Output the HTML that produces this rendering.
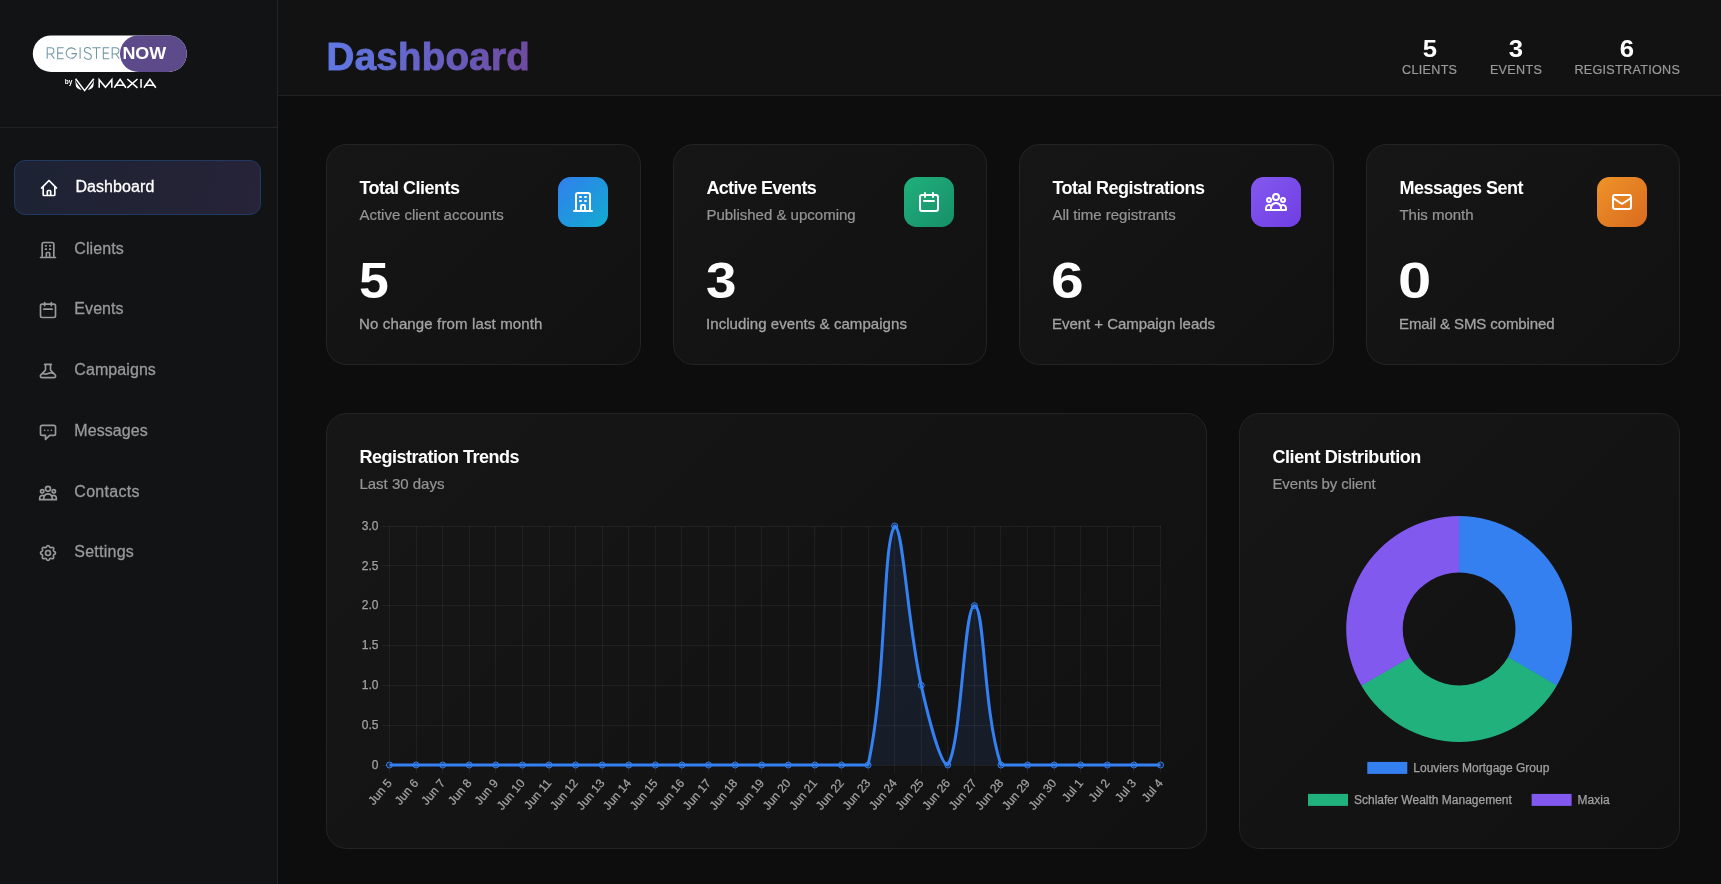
<!DOCTYPE html>
<html lang="en">
<head>
<meta charset="utf-8">
<title>Dashboard</title>
<style>
*{box-sizing:border-box;margin:0;padding:0}
html,body{width:1721px;height:884px;overflow:hidden;background:#0d0d0d}
body{font-family:"Liberation Sans",sans-serif;color:#fff;position:relative;-webkit-font-smoothing:antialiased}
.abs{position:absolute}
#sidebar,#header,.card,#charts{will-change:transform}
/* sidebar */
#sidebar{position:absolute;left:0;top:0;width:278px;height:884px;background:#121315;border-right:1px solid #232326}
#logo{position:absolute;left:0;top:0;width:277px;height:128px;border-bottom:1px solid #232326}
.nav{position:absolute;left:14px;width:247px;height:55px;border-radius:11px;color:#999}
.nav svg{position:absolute;left:24px;top:17.5px;width:20px;height:20px;fill:none;stroke:currentColor;stroke-width:2;stroke-linecap:round;stroke-linejoin:round}
.nav span{position:absolute;left:60.3px;top:-.4px;line-height:53px;font-size:16px;white-space:nowrap;letter-spacing:.08px;-webkit-text-stroke:.3px currentColor}
.nav.active{color:#fff;background:linear-gradient(100deg,#1d2334 0%,#222335 55%,#272338 100%);border:1px solid #203965}
.nav.active svg{left:24.1px;top:17.1px}
.nav.active span{left:60.4px;top:-1px}
/* header */
#header{position:absolute;left:278px;top:0;width:1443px;height:96px;background:#121212;border-bottom:1px solid #212121}
#title{position:absolute;left:48.6px;top:34px;font-size:38.4px;font-weight:700;line-height:46px;letter-spacing:.32px;-webkit-text-stroke:1px transparent;white-space:nowrap;
 background:linear-gradient(90deg,#5f79e6 0%,#6e4a9f 100%);-webkit-background-clip:text;background-clip:text;color:transparent;-webkit-text-fill-color:transparent}
.hs{position:absolute;top:0;text-align:center;white-space:nowrap;transform:translateX(-50%)}
.hs b{display:block;position:absolute;left:50%;transform:translateX(-50%) scaleX(1.09);top:34.5px;font-size:23.6px;line-height:28px;font-weight:700;color:#fff}
.hs i{display:block;position:absolute;left:50%;transform:translateX(-50%);top:62.1px;font-style:normal;font-size:12.6px;line-height:16px;color:#9a9a9a;letter-spacing:.3px;-webkit-text-stroke:.2px currentColor}
/* cards */
.card{position:absolute;border:1px solid #242424;border-radius:20.5px;background:linear-gradient(135deg,#161616 0%,#111111 100%)}
.stat{top:144px;height:221px}
.stat h3{position:absolute;left:32.4px;top:31px;font-size:18px;line-height:24px;font-weight:700;white-space:nowrap;letter-spacing:-.5px}
.stat p{position:absolute;left:32.4px;top:60px;font-size:15px;line-height:20px;color:#949494;white-space:nowrap;-webkit-text-stroke:.22px currentColor}
.stat .num{position:absolute;left:31.2px;top:107.9px;font-size:49.8px;line-height:56px;font-weight:700;white-space:nowrap;transform:scaleX(1.12);transform-origin:0 0}
.stat .foot{position:absolute;left:32px;top:168.8px;font-size:15px;line-height:20px;letter-spacing:.06px;color:#a3a3a3;white-space:nowrap;font-weight:400;-webkit-text-stroke:.3px currentColor}
.ico{position:absolute;right:32px;top:32px;width:50px;height:50px;border-radius:12.5px}
.ico svg{position:absolute;left:13px;top:13px;width:24px;height:24px;fill:none;stroke:#fff;stroke-width:2;stroke-linecap:round;stroke-linejoin:round}
.big h3{position:absolute;left:32.4px;top:31px;font-size:18px;line-height:24px;font-weight:700;white-space:nowrap;letter-spacing:-.5px}
.big p{position:absolute;left:32.4px;top:60px;font-size:15px;line-height:20px;color:#949494;white-space:nowrap;-webkit-text-stroke:.22px currentColor}
#charts{position:absolute;left:0;top:0;width:1721px;height:884px;pointer-events:none}
#charts text{font-family:"Liberation Sans",sans-serif;font-size:12px;fill:#a2a2a2;stroke:#a2a2a2;stroke-width:.25px}
</style>
</head>
<body>
<div id="sidebar">
 <div id="logo">
  <svg width="277" height="127" viewBox="0 0 277 127" style="position:absolute;left:0;top:0">
   <rect x="32.8" y="35.4" width="154" height="36.6" rx="18.3" fill="#ffffff"/>
   <rect x="120" y="35.4" width="66.8" height="36.6" rx="18.3" fill="#5c4a8b"/>
   <g fill="none" stroke="#6f96a5" stroke-width="1.05" stroke-linecap="butt" stroke-linejoin="miter">
    <!-- R -->
    <path d="M47.2 58.7V47.7h3.6a3.1 3.1 0 0 1 0 6.2h-3.6M50.9 53.9l3.4 4.8"/>
    <!-- E -->
    <path d="M63.7 47.7h-6v11h6M57.7 53.1h5.3"/>
    <!-- G -->
    <path d="M75.6 50.1a5.2 5.2 0 1 0 .9 3.5h-5"/>
    <!-- I -->
    <path d="M80.1 47.2v11.5"/>
    <!-- S -->
    <path d="M90.9 49.6c-.5-1.3-1.7-2.1-3.3-2.1-1.9 0-3.2 1.1-3.2 2.7 0 1.700 1.300 2.300 3.300 2.900 2.300.7 3.700 1.400 3.700 3.300 0 1.700-1.400 2.900-3.500 2.900-1.900 0-3.300-1-3.800-2.600"/>
    <!-- T -->
    <path d="M92.3 47.7h8.4M96.5 47.7v11"/>
    <!-- E -->
    <path d="M109.3 47.7h-6v11h6M103.3 53.1h5.3"/>
    <!-- R -->
    <path d="M112.2 58.7V47.700h3.600a3.100 3.100 0 0 1 0 6.200h-3.600M115.900 53.900l3.400 4.800"/>
   </g>
   <text x="122.4" y="58.7" font-family="Liberation Sans, sans-serif" font-weight="700" font-size="16.2" fill="#fff" textLength="43.8" lengthAdjust="spacingAndGlyphs">NOW</text>
   <text x="64.7" y="83.5" font-family="Liberation Sans, sans-serif" font-weight="700" font-size="7" fill="#fff" textLength="7.6" lengthAdjust="spacingAndGlyphs">by</text>
   <!-- maxia mark -->
   <g fill="none" stroke="#fff" stroke-width="1.5" stroke-linejoin="miter" stroke-linecap="butt">
    <path d="M75.6 78.8L84.6 90.6L93.7 78.8"/>
   </g>
   <path d="M75.1 78.5L75.9 86.3Q76.5 88.3 79.2 89.2L81.6 89.9L78.6 86L76.2 82.6Z" fill="#fff"/>
   <path d="M94.200 78.500L93.400 86.300Q92.800 88.300 90.100 89.200L87.700 89.900L90.700 86L93.100 82.600Z" fill="#fff"/>
   <!-- MAXIA -->
   <g fill="none" stroke="#fff" stroke-width="1.55" stroke-linejoin="miter" stroke-linecap="butt">
    <path d="M99.200 87.800V79.700L105.500 87.200L111.800 79.700V87.800"/>
    <path d="M114.300 87.800L120.100 79.300L125.900 87.800M116.300 85.200H123.900"/>
    <path d="M127.300 79L137.500 87.800M137.500 79L127.300 87.800"/>
    <path d="M141.050 78.900V87.800"/>
    <path d="M144 87.800L149.900 79.300L155.800 87.800M146 85.200H153.800"/>
   </g>
  </svg>
 </div>
  <div class="nav active" style="top:160px"><svg viewBox="0 0 24 24"><path d="M3 12l2-2m0 0l7-7 7 7M5 10v10a1 1 0 001 1h3m10-11l2 2m-2-2v10a1 1 0 01-1 1h-3m-6 0a1 1 0 001-1v-4a1 1 0 011-1h2a1 1 0 011 1v4a1 1 0 001 1m-6 0h6"/></svg><span>Dashboard</span></div>
 <div class="nav" style="top:222.30px"><svg viewBox="0 0 24 24"><path d="M19 21V5a2 2 0 00-2-2H7a2 2 0 00-2 2v16m14 0h2m-2 0h-5m-9 0H3m2 0h5M9 7h1m-1 4h1m4-4h1m-1 4h1m-5 10v-5a1 1 0 011-1h2a1 1 0 011 1v5m-4 0h4"/></svg><span>Clients</span></div>
 <div class="nav" style="top:282.50px"><svg viewBox="0 0 24 24"><path d="M8 7V3m8 4V3m-9 8h10M5 21h14a2 2 0 002-2V7a2 2 0 00-2-2H5a2 2 0 00-2 2v12a2 2 0 002 2z"/></svg><span>Events</span></div>
 <div class="nav" style="top:343.50px"><svg viewBox="0 0 24 24"><path d="M19.428 15.428a2 2 0 00-1.022-.547l-2.387-.477a6 6 0 00-3.860.517l-.318.158a6 6 0 01-3.860.517L6.050 15.210a2 2 0 00-1.806.547M8 4h8l-1 1v5.172a2 2 0 00.586 1.414l5 5c1.260 1.260.367 3.414-1.415 3.414H4.828c-1.782 0-2.674-2.154-1.414-3.414l5-5A2 2 0 009 10.172V5L8 4z"/></svg><span>Campaigns</span></div>
 <div class="nav" style="top:404.30px"><svg viewBox="0 0 24 24"><path d="M8 10h.01M12 10h.01M16 10h.01M9 16H5a2 2 0 01-2-2V6a2 2 0 012-2h14a2 2 0 012 2v8a2 2 0 01-2 2h-5l-5 5v-5z"/></svg><span>Messages</span></div>
 <div class="nav" style="top:465.40px"><svg viewBox="0 0 24 24"><path d="M17 20h5v-2a3 3 0 00-5.356-1.857M17 20H7m10 0v-2c0-.656-.126-1.283-.356-1.857M7 20H2v-2a3 3 0 015.356-1.857M7 20v-2c0-.656.126-1.283.356-1.857m0 0a5.002 5.002 0 019.288 0M15 7a3 3 0 11-6 0 3 3 0 016 0zm6 3a2 2 0 11-4 0 2 2 0 014 0zM7 10a2 2 0 11-4 0 2 2 0 014 0z"/></svg><span style="letter-spacing:.28px">Contacts</span></div>
 <div class="nav" style="top:525.50px"><svg viewBox="0 0 24 24"><path d="M10.325 4.317c.426-1.756 2.924-1.756 3.350 0a1.724 1.724 0 002.573 1.066c1.543-.940 3.310.826 2.370 2.370a1.724 1.724 0 001.065 2.572c1.756.426 1.756 2.924 0 3.350a1.724 1.724 0 00-1.066 2.573c.940 1.543-.826 3.310-2.370 2.370a1.724 1.724 0 00-2.572 1.065c-.426 1.756-2.924 1.756-3.350 0a1.724 1.724 0 00-2.573-1.066c-1.543.940-3.310-.826-2.370-2.370a1.724 1.724 0 00-1.065-2.572c-1.756-.426-1.756-2.924 0-3.350a1.724 1.724 0 001.066-2.573c-.940-1.543.826-3.310 2.370-2.370.996.608 2.296.070 2.572-1.065z"/><path d="M15 12a3 3 0 11-6 0 3 3 0 016 0z"/></svg><span style="letter-spacing:.25px">Settings</span></div>
</div>

<div id="header">
 <div id="title">Dashboard</div>
 <div class="hs" style="left:1151.7px"><b>5</b><i>CLIENTS</i></div>
 <div class="hs" style="left:1238px"><b>3</b><i>EVENTS</i></div>
 <div class="hs" style="left:1349.300px"><b>6</b><i>REGISTRATIONS</i></div>
</div>

<div class="card stat" style="left:326px;width:315px">
 <h3>Total Clients</h3><p>Active client accounts</p>
 <div class="ico" style="background:linear-gradient(135deg,#317fee 0%,#12acd0 100%)"><svg viewBox="0 0 24 24"><path d="M19 21V5a2 2 0 00-2-2H7a2 2 0 00-2 2v16m14 0h2m-2 0h-5m-9 0H3m2 0h5M9 7h1m-1 4h1m4-4h1m-1 4h1m-5 10v-5a1 1 0 011-1h2a1 1 0 011 1v5m-4 0h4"/></svg></div>
 <div class="num" style="left:32.3px;transform:scaleX(1.075)">5</div><div class="foot" style="letter-spacing:.14px">No change from last month</div>
</div>
<div class="card stat" style="left:673px;width:314px">
 <h3 style="letter-spacing:-.64px">Active Events</h3><p>Published &amp; upcoming</p>
 <div class="ico" style="background:linear-gradient(135deg,#20b07d 0%,#178f68 100%)"><svg viewBox="0 0 24 24"><path d="M8 7V3m8 4V3m-9 8h10M5 21h14a2 2 0 002-2V7a2 2 0 00-2-2H5a2 2 0 00-2 2v12a2 2 0 002 2z"/></svg></div>
 <div class="num" style="left:32px;transform:scaleX(1.10)">3</div><div class="foot">Including events &amp; campaigns</div>
</div>
<div class="card stat" style="left:1019px;width:315px">
 <h3>Total Registrations</h3><p>All time registrants</p>
 <div class="ico" style="background:linear-gradient(135deg,#8359ef 0%,#703de3 100%)"><svg viewBox="0 0 24 24"><path d="M17 20h5v-2a3 3 0 00-5.356-1.857M17 20H7m10 0v-2c0-.656-.126-1.283-.356-1.857M7 20H2v-2a3 3 0 015.356-1.857M7 20v-2c0-.656.126-1.283.356-1.857m0 0a5.002 5.002 0 019.288 0M15 7a3 3 0 11-6 0 3 3 0 016 0zm6 3a2 2 0 11-4 0 2 2 0 014 0zM7 10a2 2 0 11-4 0 2 2 0 014 0z"/></svg></div>
 <div class="num" style="left:31.3px;transform:scaleX(1.18)">6</div><div class="foot" style="letter-spacing:-.04px">Event + Campaign leads</div>
</div>
<div class="card stat" style="left:1366px;width:314px">
 <h3>Messages Sent</h3><p>This month</p>
 <div class="ico" style="background:linear-gradient(135deg,#ef9328 0%,#d96b1f 100%)"><svg viewBox="0 0 24 24"><path d="M3 8l7.890 5.260a2 2 0 002.220 0L21 8M5 19h14a2 2 0 002-2V7a2 2 0 00-2-2H5a2 2 0 00-2 2v10a2 2 0 002 2z"/></svg></div>
 <div class="num" style="left:30.6px;transform:scaleX(1.20)">0</div><div class="foot" style="letter-spacing:-.1px">Email &amp; SMS combined</div>
</div>
<div class="card big" style="left:326px;top:413px;width:881px;height:436px">
 <h3>Registration Trends</h3><p>Last 30 days</p>
</div>
<div class="card big" style="left:1239px;top:413px;width:441px;height:436px">
 <h3 style="letter-spacing:-.39px">Client Distribution</h3><p style="letter-spacing:-.12px">Events by client</p>
</div>

<svg id="charts" viewBox="0 0 1721 884">
<path d="M389.5 526V773M416.5 526V773M442.5 526V773M469.5 526V773M495.5 526V773M522.5 526V773M549.5 526V773M575.5 526V773M602.5 526V773M628.5 526V773M655.5 526V773M681.5 526V773M708.5 526V773M735.5 526V773M761.5 526V773M788.5 526V773M814.5 526V773M841.5 526V773M868.5 526V773M894.5 526V773M921.5 526V773M947.5 526V773M974.5 526V773M1000.5 526V773M1027.5 526V773M1054.5 526V773M1080.5 526V773M1107.5 526V773M1133.5 526V773M1160.5 526V773" stroke="#fff" stroke-opacity="0.055" stroke-width="1" fill="none" shape-rendering="crispEdges"/>
<path d="M381.5 765.5H1161M381.5 725.5H1161M381.5 685.5H1161M381.5 645.5H1161M381.5 605.5H1161M381.5 565.5H1161M381.5 526.5H1161" stroke="#fff" stroke-opacity="0.055" stroke-width="1" fill="none" shape-rendering="crispEdges"/>
<text x="378.4" y="768.8" text-anchor="end">0</text>
<text x="378.4" y="728.97" text-anchor="end">0.5</text>
<text x="378.4" y="689.13" text-anchor="end">1.0</text>
<text x="378.4" y="649.3" text-anchor="end">1.5</text>
<text x="378.4" y="609.47" text-anchor="end">2.0</text>
<text x="378.4" y="569.63" text-anchor="end">2.5</text>
<text x="378.4" y="529.8" text-anchor="end">3.0</text>
<text transform="translate(389.2 780.5) rotate(-50)" text-anchor="end" y="4.3">Jun 5</text>
<text transform="translate(415.79 780.5) rotate(-50)" text-anchor="end" y="4.3">Jun 6</text>
<text transform="translate(442.37 780.5) rotate(-50)" text-anchor="end" y="4.3">Jun 7</text>
<text transform="translate(468.96 780.5) rotate(-50)" text-anchor="end" y="4.3">Jun 8</text>
<text transform="translate(495.54 780.5) rotate(-50)" text-anchor="end" y="4.3">Jun 9</text>
<text transform="translate(522.13 780.5) rotate(-50)" text-anchor="end" y="4.3">Jun 10</text>
<text transform="translate(548.72 780.5) rotate(-50)" text-anchor="end" y="4.3">Jun 11</text>
<text transform="translate(575.3 780.5) rotate(-50)" text-anchor="end" y="4.3">Jun 12</text>
<text transform="translate(601.89 780.5) rotate(-50)" text-anchor="end" y="4.3">Jun 13</text>
<text transform="translate(628.48 780.5) rotate(-50)" text-anchor="end" y="4.3">Jun 14</text>
<text transform="translate(655.06 780.5) rotate(-50)" text-anchor="end" y="4.3">Jun 15</text>
<text transform="translate(681.65 780.5) rotate(-50)" text-anchor="end" y="4.3">Jun 16</text>
<text transform="translate(708.23 780.5) rotate(-50)" text-anchor="end" y="4.3">Jun 17</text>
<text transform="translate(734.82 780.5) rotate(-50)" text-anchor="end" y="4.3">Jun 18</text>
<text transform="translate(761.41 780.5) rotate(-50)" text-anchor="end" y="4.3">Jun 19</text>
<text transform="translate(787.99 780.5) rotate(-50)" text-anchor="end" y="4.3">Jun 20</text>
<text transform="translate(814.58 780.5) rotate(-50)" text-anchor="end" y="4.3">Jun 21</text>
<text transform="translate(841.17 780.5) rotate(-50)" text-anchor="end" y="4.3">Jun 22</text>
<text transform="translate(867.75 780.5) rotate(-50)" text-anchor="end" y="4.3">Jun 23</text>
<text transform="translate(894.34 780.5) rotate(-50)" text-anchor="end" y="4.3">Jun 24</text>
<text transform="translate(920.92 780.5) rotate(-50)" text-anchor="end" y="4.3">Jun 25</text>
<text transform="translate(947.51 780.5) rotate(-50)" text-anchor="end" y="4.3">Jun 26</text>
<text transform="translate(974.1 780.5) rotate(-50)" text-anchor="end" y="4.3">Jun 27</text>
<text transform="translate(1000.68 780.5) rotate(-50)" text-anchor="end" y="4.3">Jun 28</text>
<text transform="translate(1027.27 780.5) rotate(-50)" text-anchor="end" y="4.3">Jun 29</text>
<text transform="translate(1053.86 780.5) rotate(-50)" text-anchor="end" y="4.3">Jun 30</text>
<text transform="translate(1080.44 780.5) rotate(-50)" text-anchor="end" y="4.3">Jul 1</text>
<text transform="translate(1107.03 780.5) rotate(-50)" text-anchor="end" y="4.3">Jul 2</text>
<text transform="translate(1133.61 780.5) rotate(-50)" text-anchor="end" y="4.3">Jul 3</text>
<text transform="translate(1160.2 780.5) rotate(-50)" text-anchor="end" y="4.3">Jul 4</text>
<path d="M389.5 765L416.09 765L442.67 765L469.26 765L495.84 765L522.43 765L549.02 765L575.6 765L602.19 765L628.78 765L655.36 765L681.95 765L708.53 765L735.12 765L761.71 765L788.29 765L814.88 765L841.47 765L868.05 765C887.2 678.92 881.92 545.06 894.64 526C903.18 526 907.23 622.44 921.22 685.33C928.5 718.04 940.53 765 947.81 765C961.8 744.03 963.76 605.67 974.4 605.67C985.03 605.67 982.72 710.27 1000.98 765L1027.57 765L1054.16 765L1080.74 765L1107.33 765L1133.91 765L1160.5 765L1160.5 765L389.5 765Z" fill="#3b82f6" fill-opacity="0.1"/>
<path d="M389.5 765L416.09 765L442.67 765L469.26 765L495.84 765L522.43 765L549.02 765L575.6 765L602.19 765L628.78 765L655.36 765L681.95 765L708.53 765L735.12 765L761.71 765L788.29 765L814.88 765L841.47 765L868.05 765C887.2 678.92 881.92 545.06 894.64 526C903.18 526 907.23 622.44 921.22 685.33C928.5 718.04 940.53 765 947.81 765C961.8 744.03 963.76 605.67 974.4 605.67C985.03 605.67 982.72 710.27 1000.98 765L1027.57 765L1054.16 765L1080.74 765L1107.33 765L1133.91 765L1160.5 765" fill="none" stroke="#3581f3" stroke-width="3" stroke-linejoin="round" stroke-linecap="butt"/>
<circle cx="389.5" cy="765" r="3" fill="#3b82f6" fill-opacity="0.1" stroke="#3581f3" stroke-width="1"/>
<circle cx="416.09" cy="765" r="3" fill="#3b82f6" fill-opacity="0.1" stroke="#3581f3" stroke-width="1"/>
<circle cx="442.67" cy="765" r="3" fill="#3b82f6" fill-opacity="0.1" stroke="#3581f3" stroke-width="1"/>
<circle cx="469.26" cy="765" r="3" fill="#3b82f6" fill-opacity="0.1" stroke="#3581f3" stroke-width="1"/>
<circle cx="495.84" cy="765" r="3" fill="#3b82f6" fill-opacity="0.1" stroke="#3581f3" stroke-width="1"/>
<circle cx="522.43" cy="765" r="3" fill="#3b82f6" fill-opacity="0.1" stroke="#3581f3" stroke-width="1"/>
<circle cx="549.02" cy="765" r="3" fill="#3b82f6" fill-opacity="0.1" stroke="#3581f3" stroke-width="1"/>
<circle cx="575.6" cy="765" r="3" fill="#3b82f6" fill-opacity="0.1" stroke="#3581f3" stroke-width="1"/>
<circle cx="602.19" cy="765" r="3" fill="#3b82f6" fill-opacity="0.1" stroke="#3581f3" stroke-width="1"/>
<circle cx="628.78" cy="765" r="3" fill="#3b82f6" fill-opacity="0.1" stroke="#3581f3" stroke-width="1"/>
<circle cx="655.36" cy="765" r="3" fill="#3b82f6" fill-opacity="0.1" stroke="#3581f3" stroke-width="1"/>
<circle cx="681.95" cy="765" r="3" fill="#3b82f6" fill-opacity="0.1" stroke="#3581f3" stroke-width="1"/>
<circle cx="708.53" cy="765" r="3" fill="#3b82f6" fill-opacity="0.1" stroke="#3581f3" stroke-width="1"/>
<circle cx="735.12" cy="765" r="3" fill="#3b82f6" fill-opacity="0.1" stroke="#3581f3" stroke-width="1"/>
<circle cx="761.71" cy="765" r="3" fill="#3b82f6" fill-opacity="0.1" stroke="#3581f3" stroke-width="1"/>
<circle cx="788.29" cy="765" r="3" fill="#3b82f6" fill-opacity="0.1" stroke="#3581f3" stroke-width="1"/>
<circle cx="814.88" cy="765" r="3" fill="#3b82f6" fill-opacity="0.1" stroke="#3581f3" stroke-width="1"/>
<circle cx="841.47" cy="765" r="3" fill="#3b82f6" fill-opacity="0.1" stroke="#3581f3" stroke-width="1"/>
<circle cx="868.05" cy="765" r="3" fill="#3b82f6" fill-opacity="0.1" stroke="#3581f3" stroke-width="1"/>
<circle cx="894.64" cy="526" r="3" fill="#3b82f6" fill-opacity="0.1" stroke="#3581f3" stroke-width="1"/>
<circle cx="921.22" cy="685.33" r="3" fill="#3b82f6" fill-opacity="0.1" stroke="#3581f3" stroke-width="1"/>
<circle cx="947.81" cy="765" r="3" fill="#3b82f6" fill-opacity="0.1" stroke="#3581f3" stroke-width="1"/>
<circle cx="974.4" cy="605.67" r="3" fill="#3b82f6" fill-opacity="0.1" stroke="#3581f3" stroke-width="1"/>
<circle cx="1000.98" cy="765" r="3" fill="#3b82f6" fill-opacity="0.1" stroke="#3581f3" stroke-width="1"/>
<circle cx="1027.57" cy="765" r="3" fill="#3b82f6" fill-opacity="0.1" stroke="#3581f3" stroke-width="1"/>
<circle cx="1054.16" cy="765" r="3" fill="#3b82f6" fill-opacity="0.1" stroke="#3581f3" stroke-width="1"/>
<circle cx="1080.74" cy="765" r="3" fill="#3b82f6" fill-opacity="0.1" stroke="#3581f3" stroke-width="1"/>
<circle cx="1107.33" cy="765" r="3" fill="#3b82f6" fill-opacity="0.1" stroke="#3581f3" stroke-width="1"/>
<circle cx="1133.91" cy="765" r="3" fill="#3b82f6" fill-opacity="0.1" stroke="#3581f3" stroke-width="1"/>
<circle cx="1160.5" cy="765" r="3" fill="#3b82f6" fill-opacity="0.1" stroke="#3581f3" stroke-width="1"/>
<path d="M1459.1 516.7L1459.1 572" stroke="#3580f1" stroke-width="1.2" fill="none"/>
<path d="M1556.35 685.15L1508.46 657.5" stroke="#20b17d" stroke-width="1.2" fill="none"/>
<path d="M1361.85 685.15L1409.74 657.5" stroke="#8159ee" stroke-width="1.2" fill="none"/>
<path d="M1459.1 516.1A112.9 112.9 0 0 1 1556.87 685.45L1507.94 657.2A56.4 56.4 0 0 0 1459.1 572.6Z" fill="#3580f1"/>
<path d="M1556.87 685.45A112.9 112.9 0 0 1 1361.33 685.45L1410.26 657.2A56.4 56.4 0 0 0 1507.94 657.2Z" fill="#20b17d"/>
<path d="M1361.33 685.45A112.9 112.9 0 0 1 1459.1 516.1L1459.1 572.6A56.4 56.4 0 0 0 1410.26 657.2Z" fill="#8159ee"/>
<rect x="1367.3" y="761.9" width="40" height="12" fill="#3580f1"/>
<text x="1413.3" y="772.1">Louviers Mortgage Group</text>
<rect x="1308" y="793.9" width="40" height="12" fill="#20b17d"/>
<text x="1354" y="804.1">Schlafer Wealth Management</text>
<rect x="1531.6" y="793.9" width="40" height="12" fill="#8159ee"/>
<text x="1577.6" y="804.1">Maxia</text>
</svg>
</body>
</html>
